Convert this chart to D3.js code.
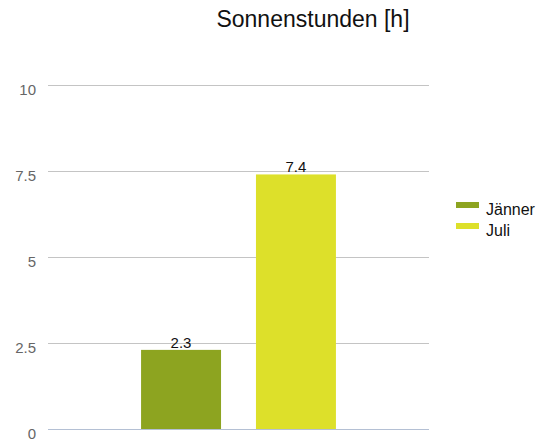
<!DOCTYPE html>
<html>
<head>
<meta charset="utf-8">
<script src="https://cdn.jsdelivr.net/npm/d3@7"></script>
<style>
  body { margin: 0; background: #fff; }
  text { font-family: "Liberation Sans", Arial, sans-serif; }
</style>
</head>
<body>
<div id="chart"></div>
<script>
// data
const title = "Sonnenstunden [h]";
const series = ["Jänner", "Juli"];
const values = [2.3, 7.4];
const labels = ["2.3", "7.4"];
const colors = ["#8da420", "#dde02a"];
const yTicks = [0, 2.5, 5, 7.5, 10];

const width = 548, height = 441;
const margin = { top: 85, right: 119, bottom: 12, left: 48 };
const innerW = width - margin.left - margin.right;
const innerH = height - margin.top - margin.bottom;

const svg = d3.select("#chart").append("svg")
  .attr("width", width)
  .attr("height", height);

// title
svg.append("text")
  .attr("x", 313)
  .attr("y", 27)
  .attr("text-anchor", "middle")
  .attr("font-size", 23)
  .attr("fill", "#111")
  .text(title);

const g = svg.append("g")
  .attr("transform", `translate(${margin.left},${margin.top})`);

const y = d3.scaleLinear().domain([0, 10]).range([innerH, 0]);
const x = d3.scaleBand().domain(series).range([0, innerW])
  .paddingInner(0.304).paddingOuter(0.81);

// grid lines
g.append("g").selectAll("line")
  .data(yTicks)
  .join("line")
  .attr("x1", 0)
  .attr("x2", innerW)
  .attr("y1", d => Math.round(y(d)) + 0.5)
  .attr("y2", d => Math.round(y(d)) + 0.5)
  .attr("stroke", d => d === 0 ? "#b4c0d4" : "#c4c4c4")
  .attr("stroke-width", 1.2);

// y labels
g.append("g").selectAll("text")
  .data(yTicks)
  .join("text")
  .attr("x", -12)
  .attr("y", d => y(d) + 10)
  .attr("text-anchor", "end")
  .attr("font-size", 15)
  .attr("fill", "#666")
  .text(d => d);

// bars
g.append("g").selectAll("rect")
  .data(series)
  .join("rect")
  .attr("x", d => x(d))
  .attr("width", x.bandwidth())
  .attr("y", (d, i) => y(values[i]))
  .attr("height", (d, i) => innerH - y(values[i]))
  .attr("fill", (d, i) => colors[i]);

// value labels
g.append("g").selectAll("text")
  .data(series)
  .join("text")
  .attr("x", d => x(d) + x.bandwidth() / 2)
  .attr("y", (d, i) => y(values[i]) - 2)
  .attr("text-anchor", "middle")
  .attr("font-size", 15)
  .attr("fill", "#111")
  .text((d, i) => labels[i]);

// legend
const legend = svg.append("g")
  .attr("transform", "translate(456,205)");
const item = legend.selectAll("g")
  .data(series)
  .join("g")
  .attr("transform", (d, i) => `translate(0,${i * 21})`);
item.append("rect")
  .attr("x", 0)
  .attr("y", -3)
  .attr("width", 23)
  .attr("height", 6)
  .attr("fill", (d, i) => colors[i]);
item.append("text")
  .attr("x", 30)
  .attr("y", 10)
  .attr("font-size", 16)
  .attr("fill", "#111")
  .text(d => d);
</script>
</body>
</html>
